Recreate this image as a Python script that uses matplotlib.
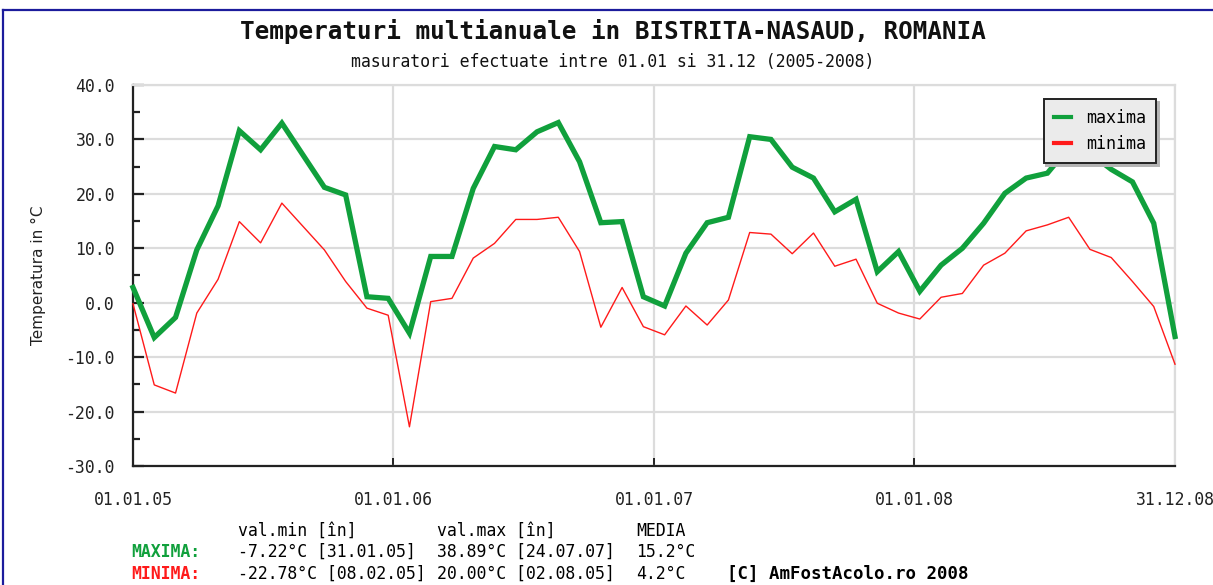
import matplotlib
matplotlib.use('Agg')
import matplotlib.pyplot as plt
import matplotlib.dates as mdates
from matplotlib.lines import Line2D
import numpy as np
import pandas as pd

# monthly-ish readings, 50 samples between 01.01.2005 and 31.12.2008
maxima = [2.8, -6.4, -2.7, 9.7, 17.8, 31.6, 28.1, 33.0, 27.1, 21.2,
          19.8, 1.1, 0.8, -5.6, 8.5, 8.5, 21.0, 28.7, 28.1, 31.4,
          33.1, 25.9, 14.7, 14.9, 1.1, -0.6, 9.1, 14.7, 15.7, 30.5,
          30.0, 24.9, 22.9, 16.7, 19.0, 5.7, 9.4, 2.1, 6.9, 10.0,
          14.6, 20.1, 22.9, 23.8, 28.5, 27.5, 24.5, 22.2, 14.6, -6.2]
minima = [-0.2, -15.1, -16.6, -1.9, 4.3, 14.9, 11.0, 18.3, 14.0, 9.7,
          3.9, -1.0, -2.3, -22.8, 0.2, 0.8, 8.2, 10.9, 15.3, 15.3,
          15.7, 9.4, -4.5, 2.8, -4.4, -5.9, -0.6, -4.1, 0.5, 12.9,
          12.6, 9.0, 12.8, 6.7, 8.0, -0.1, -1.9, -3.0, 1.0, 1.7,
          6.9, 9.1, 13.2, 14.3, 15.7, 9.8, 8.3, 3.9, -0.7, -11.3]
dates = pd.date_range('2005-01-01', '2008-12-31', periods=len(maxima))

tick_dates = pd.to_datetime(['2005-01-01', '2006-01-01', '2007-01-01',
                             '2008-01-01', '2008-12-31'])
tick_labels = ['01.01.05', '01.01.06', '01.01.07', '01.01.08', '31.12.08']

stat_header = ['val.min [în]', 'val.max [în]', 'MEDIA']
stat_max = ['-7.22°C [31.01.05]', '38.89°C [24.07.07]', '15.2°C']
stat_min = ['-22.78°C [08.02.05]', '20.00°C [02.08.05]', '4.2°C']

GREEN = '#10a03c'
RED = '#ff1a1a'
MONO = 'DejaVu Sans Mono'

W, H = 1213, 585
fig = plt.figure(figsize=(W / 100, H / 100), dpi=100)
ax = fig.add_axes([133 / W, 1 - 466 / H, (1175 - 133) / W, (466 - 85) / H])

def px(x, y):
    return x / W, 1 - y / H

ax.plot(dates, maxima, color=GREEN, lw=3.8, label='maxima', clip_on=False,
        solid_joinstyle='miter', zorder=3)
ax.plot(dates, minima, color=RED, lw=1.0, label='minima', clip_on=False, zorder=3)

ax.set_xlim(tick_dates[0], tick_dates[-1])
ax.set_ylim(-30, 40)
ax.set_yticks(np.arange(-30, 41, 10))
ax.set_yticks(np.arange(-25, 40, 10), minor=True)
ax.yaxis.set_major_formatter(matplotlib.ticker.FormatStrFormatter('%.1f'))
ax.set_xticks(mdates.date2num(tick_dates))
ax.set_xticklabels(tick_labels)

ax.grid(True, color='#dcdcdc', lw=1.6, zorder=0)
for s in ['top', 'right']:
    ax.spines[s].set_color('#dcdcdc')
    ax.spines[s].set_linewidth(1.6)
for s in ['left', 'bottom']:
    ax.spines[s].set_color('#222222')
    ax.spines[s].set_linewidth(1.6)

ax.tick_params(axis='y', which='major', direction='in', length=8, width=1.6,
               color='#222222', pad=13, labelsize=11.9, labelcolor='#222222')
ax.tick_params(axis='y', which='minor', direction='in', length=5, width=1.6,
               color='#222222')
ax.tick_params(axis='x', direction='in', length=6, width=1.4, color='#222222',
               pad=18, labelsize=11.9, labelcolor='#222222')
for lab in ax.get_xticklabels() + ax.get_yticklabels():
    lab.set_fontfamily(MONO)

ax.set_ylabel('Temperatura in °C', fontsize=11, color='#222222')
ax.yaxis.set_label_coords(-(133 - 46) / 1042, 0.5)

leg = ax.legend(loc='upper right', bbox_to_anchor=((1156 - 133) / 1042, (466 - 99) / 381),
                prop={'family': MONO, 'size': 12}, handlelength=1.05,
                handletextpad=0.9, borderpad=0.6, labelspacing=0.5,
                borderaxespad=0, fancybox=False, framealpha=1, facecolor='#ebebeb',
                edgecolor='#222222',
                shadow={'facecolor': '#b4b4b4', 'edgecolor': '#b4b4b4', 'alpha': 1})
leg.get_frame().set_linewidth(1.4)
for h in leg.legend_handles:
    h.set_linewidth(3)

fig.text(*px(613, 31), 'Temperaturi multianuale in BISTRITA-NASAUD, ROMANIA',
         ha='center', va='center', fontsize=17.5, family=MONO, weight='bold',
         color='#111111')
fig.text(*px(613, 62), 'masuratori efectuate intre 01.01 si 31.12 (2005-2008)',
         ha='center', va='center', fontsize=11.9, family=MONO, color='#111111')

cols = [238, 437, 636]
for x, t in zip(cols, stat_header):
    fig.text(*px(x, 531), t, ha='left', va='center', fontsize=11.9, family=MONO)
fig.text(*px(131, 552), 'MAXIMA:', ha='left', va='center', fontsize=11.9,
         family=MONO, weight='bold', color=GREEN)
fig.text(*px(131, 574), 'MINIMA:', ha='left', va='center', fontsize=11.9,
         family=MONO, weight='bold', color=RED)
for x, t in zip(cols, stat_max):
    fig.text(*px(x, 552), t, ha='left', va='center', fontsize=11.9, family=MONO)
for x, t in zip(cols, stat_min):
    fig.text(*px(x, 574), t, ha='left', va='center', fontsize=11.9, family=MONO)
fig.text(*px(727, 574), '[C] AmFostAcolo.ro 2008', ha='left', va='center',
         fontsize=12.5, family=MONO, weight='bold')

# blue page frame (top and left edge)
fig.add_artist(Line2D([3 / W, 1 / 1], [1 - 10 / H, 1 - 10 / H], color='#1c1c9c', lw=1.6))
fig.add_artist(Line2D([3 / W, 3 / W], [0, 1 - 10 / H], color='#1c1c9c', lw=1.6))

fig.savefig('out.png', dpi=100)
